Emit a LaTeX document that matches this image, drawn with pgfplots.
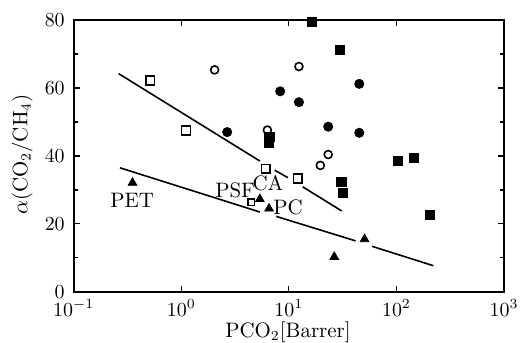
\documentclass[border=0pt]{standalone}
\usepackage{pgfplots}
\pgfplotsset{compat=1.18}
\begin{document}
\begin{tikzpicture}[font=\fontsize{10.5}{12}\selectfont]
\begin{axis}[
  at={(0,0)}, anchor=south west,
  scale only axis, width=216pt, height=136.5pt,
  xmode=log, log basis x=10,
  xmin=0.1, xmax=1000, ymin=0, ymax=80,
  xtick={0.1,1,10,100,1000},
  ytick={0,20,40,60,80}, minor ytick={10,30,50,70},
  tick align=inside,
  tick label style={font=\fontsize{10}{12}\selectfont},
  xticklabel style={yshift=-0.5pt},
  yticklabel style={xshift=-1pt},
  major tick length=3pt, minor tick length=2pt,
  every tick/.style={black, line width=0.6pt},
  axis line style={line width=1.1pt},
  xlabel={PCO$_2$[Barrer]},
  ylabel={$\alpha$(CO$_2$/CH$_4$)},
  xlabel style={at={(axis description cs:0.498,-0.148)}, anchor=center},
  ylabel style={at={(axis description cs:-0.12,0.505)}, anchor=center},
  clip=false,
]
% regression lines (broken)
\addplot[black, line width=0.8pt] coordinates {(0.2616,64.2) (5.37,38.5)};
\addplot[black, line width=0.8pt] coordinates {(7.38,35.8) (9.79,33.6)};
\addplot[black, line width=0.8pt] coordinates {(13.45,30.9) (31.0,23.8)};
\addplot[black, line width=0.8pt] coordinates {(0.269,36.5) (5.37,23.5)};
\addplot[black, line width=0.8pt] coordinates {(7.64,22.2) (41.7,15.0)};
\addplot[black, line width=0.8pt] coordinates {(59.4,13.4) (220,7.7)};
% open squares
\addplot[only marks, mark=square, mark size=2.2pt, mark options={line width=0.8pt, black}]
  coordinates {(0.513,62.2) (1.107,47.5) (6.10,36.2) (12.1,33.4)};
\addplot[only marks, mark=square, mark size=1.6pt, mark options={line width=0.8pt, black}]
  coordinates {(4.49,26.3)};
% open circles
\addplot[only marks, mark=o, mark size=2pt, mark options={line width=0.8pt, black}]
  coordinates {(2.04,65.3) (12.4,66.3) (6.31,47.6) (23.2,40.4) (19.6,37.2)};
% filled circles
\addplot[only marks, mark=*, mark size=2.3pt, mark options={black}]
  coordinates {(8.3,59.0) (12.4,55.8) (45.1,61.2) (23.2,48.6) (45.1,46.8) (2.67,47.0)};
% filled squares
\addplot[only marks, mark=square*, mark size=2.3pt, mark options={black}]
  coordinates {(16.5,79.4) (29.9,71.2) (6.6,45.5) (6.5,43.8) (30.8,32.4) (31.9,29.2)
               (102.6,38.6) (144,39.5) (205,22.6)};
% filled triangles
\addplot[only marks, mark=triangle*, mark size=2.5pt, mark options={black}]
  coordinates {(0.352,32.1) (5.37,27.3) (6.54,24.5) (50.5,15.5) (26.4,10.3)};
\node at (axis cs:0.35,26.8) {PET};
\node at (axis cs:3.16,30.0) {PSF};
\node at (axis cs:6.4,31.9) {CA};
\node at (axis cs:9.8,24.8) {PC};
\end{axis}
\pgfresetboundingbox
\path (-37pt,-25.5pt) rectangle (224pt,146.5pt);
\end{tikzpicture}
\end{document}
